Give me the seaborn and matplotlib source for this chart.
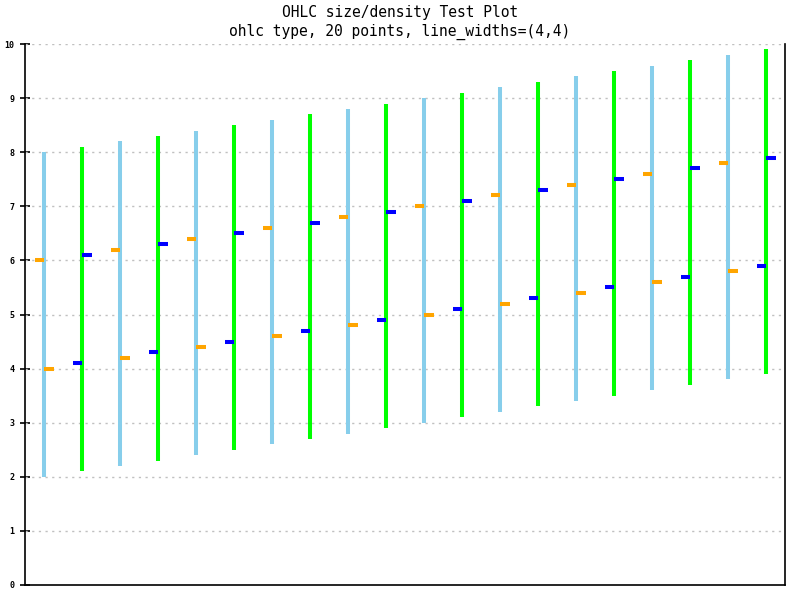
import numpy as np
import pandas as pd
import matplotlib
matplotlib.use("Agg")
import matplotlib.pyplot as plt
import seaborn as sns

# Data
points = list(range(20))
lows = [2.0, 2.1, 2.2, 2.3, 2.4, 2.5, 2.6, 2.7, 2.8, 2.9,
        3.0, 3.1, 3.2, 3.3, 3.4, 3.5, 3.6, 3.7, 3.8, 3.9]
highs = [8.0, 8.1, 8.2, 8.3, 8.4, 8.5, 8.6, 8.7, 8.8, 8.9,
         9.0, 9.1, 9.2, 9.3, 9.4, 9.5, 9.6, 9.7, 9.8, 9.9]
opens = [6.0, 4.1, 6.2, 4.3, 6.4, 4.5, 6.6, 4.7, 6.8, 4.9,
         7.0, 5.1, 7.2, 5.3, 7.4, 5.5, 7.6, 5.7, 7.8, 5.9]
closes = [4.0, 6.1, 4.2, 6.3, 4.4, 6.5, 4.6, 6.7, 4.8, 6.9,
          5.0, 7.1, 5.2, 7.3, 5.4, 7.5, 5.6, 7.7, 5.8, 7.9]
yticks = [0, 1, 2, 3, 4, 5, 6, 7, 8, 9, 10]

df = pd.DataFrame({"x": points, "low": lows, "high": highs,
                   "open": opens, "close": closes})
df["up"] = df["close"] > df["open"]

sns.set_theme(style="white")
plt.rcParams["font.family"] = ["DejaVu Sans Mono"]
plt.rcParams["text.color"] = "black"
plt.rcParams["ytick.color"] = "black"
plt.rcParams["ytick.labelcolor"] = "black"

fig = plt.figure(figsize=(8, 6), dpi=100)
ax = fig.add_axes([25 / 800, 15 / 600, 760 / 800, 541 / 600])

bar_col = np.where(df["up"], "#00FF00", "#87CEEB")
tick_col = np.where(df["up"], "#0000FF", "#FFA500")
tlen = 0.25
lw = 2.9

ax.vlines(df["x"], df["low"], df["high"], colors=bar_col, linewidth=lw,
          capstyle="butt", zorder=3)
ax.hlines(df["open"], df["x"] - tlen, df["x"], colors=tick_col, linewidth=lw,
          capstyle="butt", zorder=4)
ax.hlines(df["close"], df["x"], df["x"] + tlen, colors=tick_col, linewidth=lw,
          capstyle="butt", zorder=4)

ax.set_xlim(-0.5, 19.5)
ax.set_ylim(0, 10)
ax.set_xticks([])
ax.set_yticks(yticks)
ax.set_yticklabels([str(t) for t in yticks], fontsize=6, fontweight="bold")
ax.tick_params(axis="y", direction="inout", length=7, width=1.2, color="black",
               left=True, pad=4)
for y in yticks[1:]:
    ax.axhline(y, color="#c0c0c0", linestyle=(0, (1.6, 3.2)), linewidth=1,
               zorder=1)

ax.spines["top"].set_visible(False)
for s in ["left", "right", "bottom"]:
    ax.spines[s].set_color("black")
    ax.spines[s].set_linewidth(1.2)

fig.text(0.5, 1 - 13 / 600, "OHLC size/density Test Plot", ha="center",
         va="center", fontsize=10.5, color="black")
fig.text(0.5, 1 - 32 / 600, "ohlc type, 20 points, line_widths=(4,4)",
         ha="center", va="center", fontsize=10.5, color="black")

fig.savefig("out.png", dpi=100, facecolor="white")
